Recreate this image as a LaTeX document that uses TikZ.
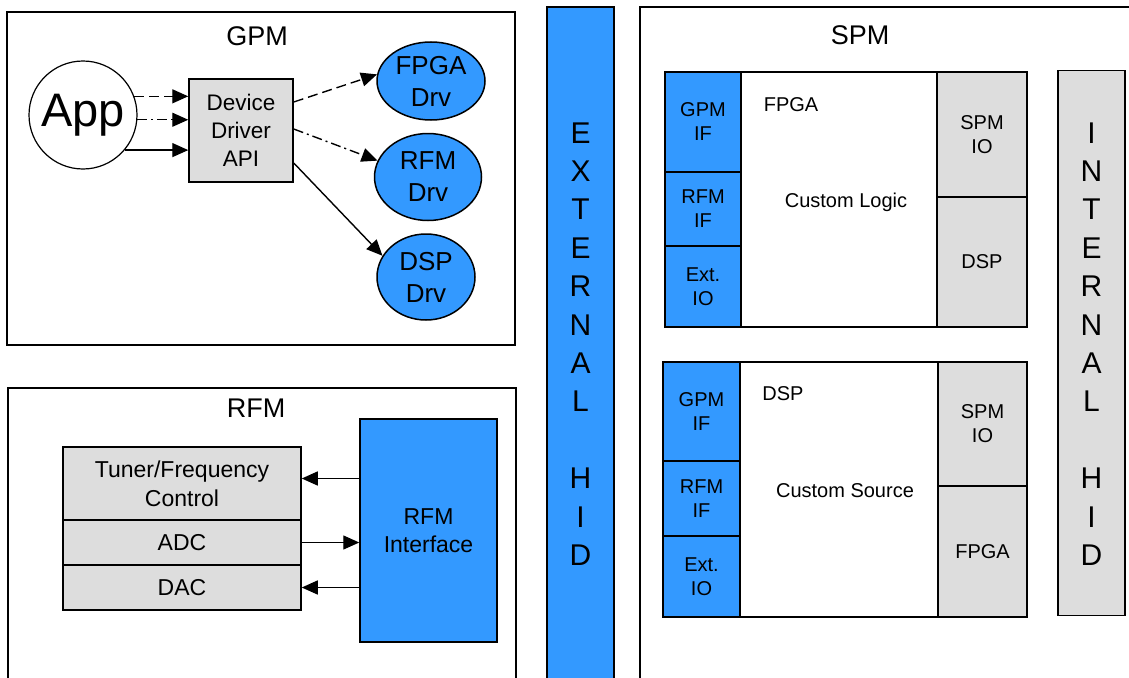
\documentclass[tikz,border=0pt]{standalone}
\usepackage{fontspec}
\setmainfont{Liberation Sans}
\usetikzlibrary{arrows.meta,shapes.geometric}
\definecolor{hwblue}{RGB}{51,153,255}
\definecolor{hwgray}{RGB}{221,221,221}
\tikzset{
  frame/.style={draw=black, line width=1.5pt, fill=white},
  blk/.style={draw=black, line width=1.5pt, inner sep=0pt, align=center},
  bluebox/.style={blk, fill=hwblue},
  graybox/.style={blk, fill=hwgray},
  drvnode/.style={ellipse, draw=black, line width=1.5pt, fill=hwblue, inner sep=0pt, align=center,
    font=\fontsize{26}{32}\selectfont},
  arr/.style={line width=1.4pt, -{Triangle[length=16pt,width=14pt]}},
  dashdot/.style={dash pattern=on 10pt off 4pt on 2pt off 4pt},
  dashline/.style={dash pattern=on 10pt off 5pt},
  small/.style={font=\fontsize{20}{24}\selectfont},
  title/.style={anchor=base, font=\fontsize{27}{32}\selectfont},
  vert/.style={align=center, font=\fontsize{30}{38.4}\selectfont}
}
\begin{document}
\begin{tikzpicture}[x=1pt,y=-1pt]
\useasboundingbox (0,0) rectangle (1129,677);
\clip (0,0) rectangle (1129,677);
\fill[white] (0,0) rectangle (1129,677);

% ---------- GPM ----------
\draw[frame] (7,12) rectangle (515,345);
\node[title] (gpmtitle) at (257,46) {GPM};
\node[circle, draw=black, line width=1.2pt, fill=white, minimum size=108pt, inner sep=0pt,
  font=\fontsize{47}{50}\selectfont] (app) at (83,115) {App};
\node[graybox, minimum width=104pt, minimum height=103pt,
  font=\fontsize{22.5}{28}\selectfont] (api) at (241,130.5) {Device\\Driver\\API};
\node[drvnode, minimum width=108pt, minimum height=78pt] (fpgadrv) at (431,81) {FPGA\\Drv};
\node[drvnode, minimum width=107pt, minimum height=87pt] (rfmdrv) at (428,177) {RFM\\Drv};
\node[drvnode, minimum width=98pt, minimum height=86pt] (dspdrv) at (426,277) {DSP\\Drv};

\draw[arr, dashline] (app.20.5) -- (app.20.5 -| api.west);
\draw[arr, dashdot] (app.-5.3) -- (app.-5.3 -| api.west);
\draw[arr] (app.-40.5) -- (app.-40.5 -| api.west);

\draw[arr, dashline] ([yshift=28.5pt]api.east) -- (fpgadrv.173);
\draw[arr, dashdot] ([yshift=1.5pt]api.east) -- (rfmdrv.162);
\draw[arr] ([yshift=-32.5pt]api.east) -- (dspdrv.154);

% ---------- RFM ----------
\draw[frame] (8,700) -- (8,388) -- (516,388) -- (516,700);
\node[title] (rfmtitle) at (256,417) {RFM};
\node[graybox, minimum width=238pt, minimum height=73pt,
  font=\fontsize{23}{29}\selectfont] (tuner) at (182,483.5) {Tuner/Frequency\\Control};
\node[graybox, minimum width=238pt, minimum height=45pt,
  font=\fontsize{23}{29}\selectfont] (adc) at (182,542.5) {ADC};
\node[graybox, minimum width=238pt, minimum height=45pt,
  font=\fontsize{23}{29}\selectfont] (dac) at (182,587.5) {DAC};
\node[bluebox, minimum width=137pt, minimum height=223pt,
  font=\fontsize{23}{28}\selectfont] (rfmif) at (428.5,530.5) {RFM\\Interface};
\coordinate (tunin) at ([yshift=5pt]tuner.east);
\draw[arr] (rfmif.west |- tunin) -- (tunin);
\draw[arr] (adc.east) -- (rfmif.west |- adc.east);
\draw[arr] (rfmif.west |- dac.east) -- (dac.east);

% ---------- EXTERNAL HID bar ----------
\draw[blk, fill=hwblue] (547,7) rectangle (614,700);
\node[vert] (exthid) at (580.5,344) {E\\X\\T\\E\\R\\N\\A\\L\\\mbox{}\\H\\I\\D};

% ---------- SPM ----------
\draw[frame] (640,700) -- (640,7) -- (1140,7);
\node[title] (spmtitle) at (860,45) {SPM};

% FPGA block
\node[blk, fill=white, minimum width=362pt, minimum height=255pt] (fpgablk) at (846,199.5) {};
\node[bluebox, small, minimum width=76pt, minimum height=100pt] (gpmifa) at (703,122) {GPM\\IF};
\node[bluebox, small, minimum width=76pt, minimum height=74pt] (rfmifa) at (703,209) {RFM\\IF};
\node[bluebox, small, minimum width=76pt, minimum height=81pt] (extioa) at (703,286.5) {Ext.\\IO};
\node[graybox, small, minimum width=90pt, minimum height=125pt] (spmioa) at (982,134.5) {SPM\\IO};
\node[graybox, small, minimum width=90pt, minimum height=130pt] (dspa) at (982,262) {DSP};
\node[small, anchor=base] (fpgalabel) at (791,111) {FPGA};
\node[small, anchor=base] (customlogic) at (846,207) {Custom Logic};

% DSP block
\node[blk, fill=white, minimum width=364pt, minimum height=255pt] (dspblk) at (845,489.5) {};
\node[bluebox, small, minimum width=77pt, minimum height=99pt] (gpmifb) at (701.5,411.5) {GPM\\IF};
\node[bluebox, small, minimum width=77pt, minimum height=75pt] (rfmifb) at (701.5,498.5) {RFM\\IF};
\node[bluebox, small, minimum width=77pt, minimum height=81pt] (extiob) at (701.5,576.5) {Ext.\\IO};
\node[graybox, small, minimum width=89pt, minimum height=124pt] (spmiob) at (982.5,424) {SPM\\IO};
\node[graybox, small, minimum width=89pt, minimum height=131pt] (fpgab) at (982.5,551.5) {FPGA};
\node[small, anchor=base] (dsplabel) at (783,400) {DSP};
\node[small, anchor=base] (customsource) at (845,497) {Custom Source};

% INTERNAL HID bar
\node[graybox, minimum width=67pt, minimum height=545pt] (inthidbar) at (1091.5,343) {};
\node[vert] (inthid) at (1091.5,344) {I\\N\\T\\E\\R\\N\\A\\L\\\mbox{}\\H\\I\\D};
\end{tikzpicture}
\end{document}
